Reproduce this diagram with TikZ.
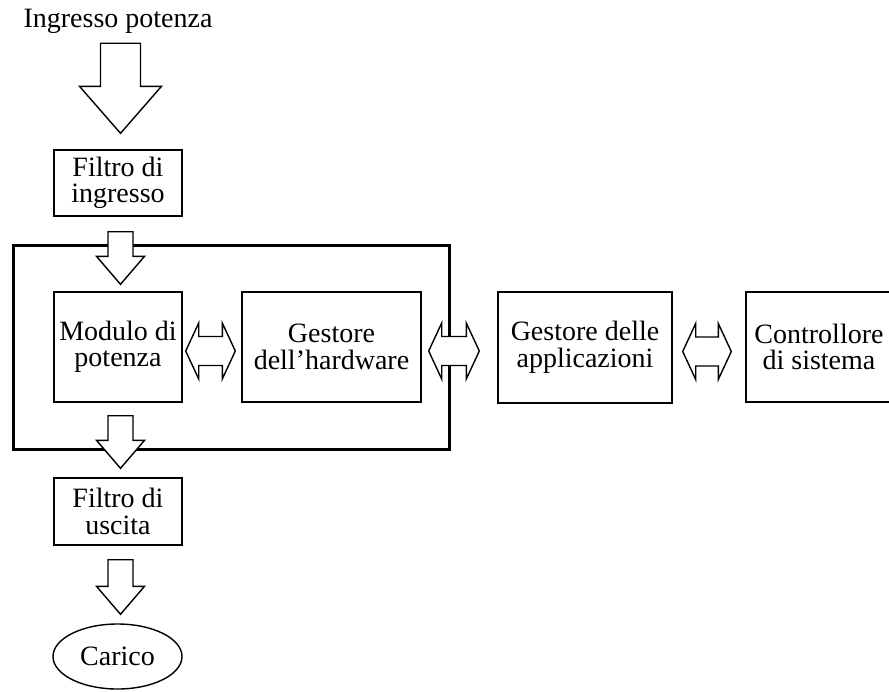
\documentclass[tikz,border=0pt]{standalone}
\usepackage{fontspec}
\setmainfont{Liberation Serif}
\usetikzlibrary{calc,shapes.geometric}
\begin{document}
\begin{tikzpicture}[x=1pt,y=-1pt,
  every node/.style={font=\fontsize{28}{26.5}\selectfont, align=center, inner sep=0pt},
  blockbox/.style={draw, line width=1.4pt, rectangle},
  frame/.style={draw, line width=3pt},
  blockarrow/.style={draw, fill=white, line width=1.4pt, line join=miter},
  % hollow arrow pointing down: shaft half-width / head half-width / head length
  fatdown/.style args={#1/#2/#3}{to path={let \p1=(\tikztostart), \p2=(\tikztotarget) in
     ({\x1-#1},\y1) -- ({\x1+#1},\y1) -- ({\x1+#1},{\y2+#3}) -- ({\x1+#2},{\y2+#3})
     -- (\x1,\y2) -- ({\x1-#2},{\y2+#3}) -- ({\x1-#1},{\y2+#3}) -- cycle}},
  % hollow two-headed horizontal arrow: shaft half-width / head half-width / head length
  fatboth/.style args={#1/#2/#3}{to path={let \p1=(\tikztostart), \p2=(\tikztotarget) in
     (\x1,\y1) -- ({\x1+#3},{\y1+#2}) -- ({\x1+#3},{\y1+#1}) -- ({\x2-#3},{\y1+#1})
     -- ({\x2-#3},{\y1+#2}) -- (\x2,\y1) -- ({\x2-#3},{\y1-#2}) -- ({\x2-#3},{\y1-#1})
     -- ({\x1+#3},{\y1-#1}) -- ({\x1+#3},{\y1-#2}) -- cycle}},
]
\useasboundingbox (0,0) rectangle (889,691);

% power path and control chain
\node[anchor=base] (title) at (118,27) {Ingresso potenza};
\node[blockbox, minimum width=128pt, minimum height=66pt] (fin) at (118,183) {Filtro di\\ingresso};
\node[frame, minimum width=436pt, minimum height=204pt] (core) at (231,347) {};
\node[blockbox, minimum width=128pt, minimum height=110pt] (pm) at (118,347) {Modulo di\\potenza};
\node[blockbox, minimum width=179pt, minimum height=110pt] (hw) at (331.5,347) {Gestore\\dell’hardware};
\node[blockbox, minimum width=174pt, minimum height=111pt] (app) at (585,347.5) {Gestore delle\\applicazioni};
\node[blockbox, minimum width=146pt, minimum height=110pt] (ctrl) at (819,347) {Controllore\\di sistema};
\node[blockbox, minimum width=128pt, minimum height=67pt] (fout) at (118,511.5) {Filtro di\\uscita};
\node[draw, ellipse, line width=1.4pt, minimum width=129pt, minimum height=65pt] (load) at (117.5,656.5) {Carico};

% downward power flow
\draw[blockarrow] ($(title.south)+(2.5,10)$) to[fatdown=20pt/41pt/47pt] ($(fin.north)+(0,-16)$);
\draw[blockarrow] ($(fin.south)+(2.5,15)$) to[fatdown=12.5pt/24pt/28pt] ($(pm.north)+(0,-7)$);
\draw[blockarrow] ($(pm.south)+(2.5,13)$) to[fatdown=12.5pt/24pt/28pt] ($(fout.north)+(0,-9)$);
\draw[blockarrow] ($(fout.south)+(2.5,14)$) to[fatdown=12.5pt/24pt/28pt] ($(load.north)+(0,-9)$);

% two-way data links
\draw[blockarrow] ($(pm.east)+(3,4)$) to[fatboth=14.5pt/28pt/13pt] ($(hw.west)+(-6,4)$);
\draw[blockarrow] ($(hw.east)+(7,4)$) to[fatboth=14.5pt/28pt/13pt] ($(app.west)+(-18,4)$);
\draw[blockarrow] ($(app.east)+(10,4)$) to[fatboth=14.5pt/28pt/13pt] ($(ctrl.west)+(-14,4)$);
\end{tikzpicture}
\end{document}
